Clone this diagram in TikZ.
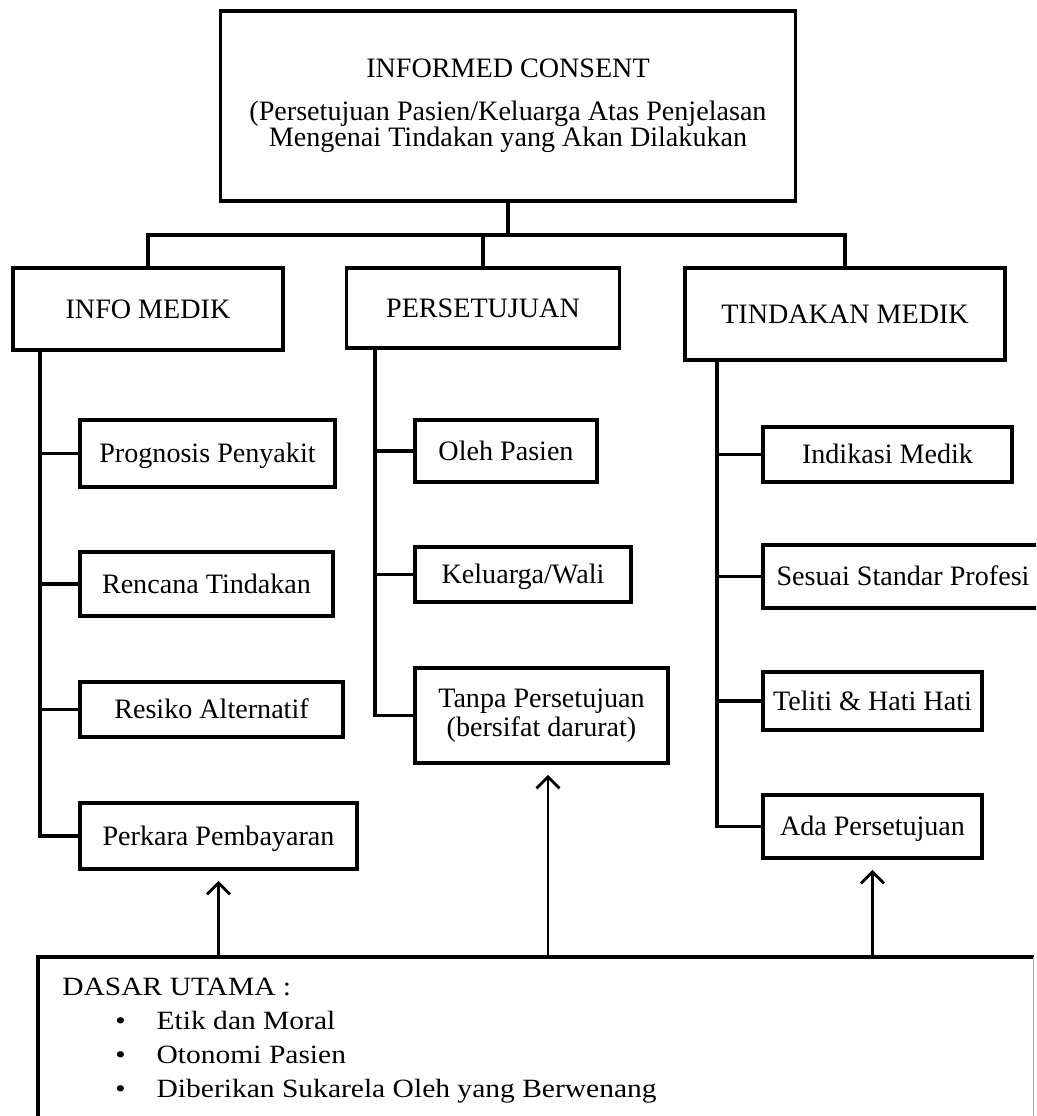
\documentclass[tikz,border=0pt]{standalone}
\usepackage{fontspec}
\setmainfont{Liberation Serif}
\newfontfamily\lebar[FakeStretch=1.12]{Liberation Serif}
\newcommand\rapat{\lineskiplimit=-10pt\relax}
\newcommand\tiang{\rule[-3.5pt]{0pt}{17.6pt}}
\usetikzlibrary{arrows.meta,positioning}

\tikzset{
  kotak/.style={draw,line width=2.2pt,align=center,inner sep=2pt,
    font=\fontsize{16}{16.5}\selectfont,execute at begin node=\tiang},
  garis/.style={line width=2.2pt},
  panah/.style={line width=1.6pt,-{Straight Barb[length=6.5pt,width=13pt]},shorten >=0.2cm}
}

\begin{document}
\begin{tikzpicture}[x=0.02cm,y=-0.02cm]
  \useasboundingbox (0,0) rectangle (1036,1116);
  \clip (0,0) rectangle (1036,1116);
  % puncak
  \node[kotak,minimum width=11.5cm,minimum height=3.8cm,
    font=\fontsize{16}{15}\selectfont\rapat] (consent) at (508,106)
    {INFORMED CONSENT\\[9pt](Persetujuan Pasien/Keluarga Atas Penjelasan\\Mengenai Tindakan yang Akan Dilakukan};
  % tingkat kedua
  \node[kotak,minimum width=5.4cm,minimum height=1.64cm] (info) at (148,309) {INFO MEDIK};
  \node[kotak,minimum width=5.46cm,minimum height=1.6cm] (setuju) at (483,308) {PERSETUJUAN};
  \node[kotak,minimum width=6.4cm,minimum height=1.84cm] (tindakan) at (845,314) {TINDAKAN MEDIK};
  % info medik
  \node[kotak,minimum width=5.1cm,minimum height=1.34cm] (prognosis) at (207.5,453.5) {Prognosis Penyakit};
  \node[kotak,minimum width=5.06cm,minimum height=1.28cm] (rencana) at (206.5,584) {Rencana Tindakan};
  \node[kotak,minimum width=5.26cm,minimum height=1.1cm] (resiko) at (211.5,709.5) {Resiko Alternatif};
  \node[kotak,minimum width=5.54cm,minimum height=1.32cm] (perkara) at (218.5,836) {Perkara Pembayaran};
  % persetujuan
  \node[kotak,minimum width=3.64cm,minimum height=1.24cm] (oleh) at (506,451) {Oleh Pasien};
  \node[kotak,minimum width=4.32cm,minimum height=1.1cm] (keluarga) at (523,574.5) {Keluarga/Wali};
  \node[kotak,minimum width=5.06cm,minimum height=1.9cm] (tanpa) at (541.5,715.5) {Tanpa Persetujuan\\(bersifat darurat)};
  % tindakan medik
  \node[kotak,minimum width=4.98cm,minimum height=1.1cm] (indikasi) at (887.5,454.5) {Indikasi Medik};
  \node[kotak,minimum width=5.6cm,minimum height=1.26cm] (sesuai) at (903,576.5) {Sesuai Standar Profesi};
  \node[kotak,minimum width=4.38cm,minimum height=1.16cm] (teliti) at (872.5,701) {Teliti \& Hati Hati};
  \node[kotak,minimum width=4.38cm,minimum height=1.26cm] (ada) at (872.5,826.5) {Ada Persetujuan};
  % dasar utama
  \node[anchor=north west,inner xsep=0.48cm,inner ysep=0.42cm,font=\lebar\fontsize{15}{19.3}\selectfont] (dasar) at (38,957)
    {\parbox[t][3.6cm][t]{18.94cm}{DASAR UTAMA :\\
      \hspace*{1.06cm}\textbullet\hspace{0.62cm}Etik dan Moral\\
      \hspace*{1.06cm}\textbullet\hspace{0.62cm}Otonomi Pasien\\
      \hspace*{1.06cm}\textbullet\hspace{0.62cm}Diberikan Sukarela Oleh yang Berwenang}};
  \draw[garis] (dasar.south west) |- (dasar.north east);
  \draw[black!35,line width=0.6pt] (dasar.north east) -- (dasar.south east);

  % cabang atas
  \coordinate (cabang) at (510,235);
  \draw[garis] (consent.south) -- (consent.south |- cabang);
  \draw[garis] (info.north) -- (info.north |- cabang) -- (tindakan.north |- cabang) -- (tindakan.north);
  \draw[garis] (setuju.north) -- (setuju.north |- cabang);

  % batang
  \coordinate (infobatang) at (40,350);
  \coordinate (setujubatang) at (375,348);
  \coordinate (tindakanbatang) at (717,360);
  \draw[garis] (infobatang) |- (perkara.west);
  \foreach \b in {prognosis,rencana,resiko}
    \draw[garis] (infobatang |- \b.west) -- (\b.west);
  \draw[garis] (setujubatang) |- (tanpa.west);
  \foreach \b in {oleh,keluarga}
    \draw[garis] (setujubatang |- \b.west) -- (\b.west);
  \draw[garis] (tindakanbatang) |- (ada.west);
  \foreach \b in {indikasi,sesuai,teliti}
    \draw[garis] (tindakanbatang |- \b.west) -- (\b.west);

  % panah
  \draw[panah] (dasar.north -| perkara.south) -- (perkara.south);
  \draw[panah] ([xshift=0.13cm]dasar.north -| tanpa.south) -- ([xshift=0.13cm]tanpa.south);
  \draw[panah] (dasar.north -| ada.south) -- (ada.south);
\end{tikzpicture}
\end{document}
